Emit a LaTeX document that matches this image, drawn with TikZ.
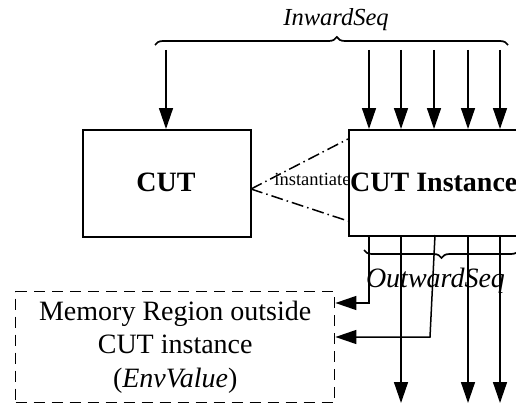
\documentclass[tikz,border=0pt]{standalone}
\usepackage{fontspec}
\setmainfont{Liberation Serif}
\usetikzlibrary{arrows.meta,decorations.pathreplacing}

\begin{document}
\begin{tikzpicture}[x=1pt,y=-1pt,
  conn/.style={line width=1.5pt},
  arr/.style={conn,-{Triangle[length=21pt,width=14pt]}},
  solidbox/.style={draw,line width=1.7pt,inner sep=0pt},
  dashbox/.style={draw,line width=1.4pt,dash pattern=on 11pt off 7pt,inner sep=0pt,
    align=center,font=\fontsize{28}{33.5}\selectfont},
  dashdot/.style={line width=1.5pt,dash pattern=on 12pt off 4pt on 1.5pt off 4pt},
  bracepath/.style={line width=1.7pt,decorate,decoration={brace,amplitude=8pt}},
  bigbold/.style={font=\fontsize{28}{33.5}\selectfont\bfseries,inner sep=0pt},
  small/.style={font=\fontsize{18.5}{22}\selectfont,inner sep=0pt}]

\clip (0,0) rectangle (516,404);

% boxes
\node[solidbox,anchor=north west,minimum width=168pt,minimum height=107pt] (cut) at (82,129) {};
\node[solidbox,anchor=north west,minimum width=200pt,minimum height=106pt] (inst) at (348,129) {};
\node[dashbox,anchor=north west,minimum width=319pt,minimum height=111pt] (mem) at (15,291)
  {Memory Region outside\\CUT instance\\(\textit{EnvValue})};

% box titles
\node[bigbold,anchor=base] (cuttext) at (166,191.5) {CUT};
\node[bigbold,anchor=base west] (insttext) at (350,191) {CUT Instance};

% instantiation relation
\coordinate (apex) at (251,189);
\coordinate (up) at (348,139);
\coordinate (lo) at (348,221);
\draw[dashdot] (apex) -- (up);
\draw[dashdot] (apex) -- (lo);
\node[small,anchor=base] (insttag) at (312.5,185) {instantiate};

% inward sequence
\draw[bracepath,decoration={aspect=0.515}] (155,45) -- (508,45);
\node[font=\fontsize{24.5}{28}\selectfont\itshape,inner sep=0pt,anchor=base] (inlabel) at (336,26) {InwardSeq};
\coordinate (i0) at (166,50);
\foreach \x [count=\k] in {369,401,434,468,500} {
  \coordinate (i\k) at (\x,50);
}
\draw[arr] (i0) -- (i0 |- cut.north);
\foreach \k in {1,...,5} {
  \draw[arr] (i\k) -- (i\k |- inst.north);
}

% outward sequence
\coordinate (o1) at (369,235);
\coordinate (o2) at (401,235);
\coordinate (o3) at (435,235);
\coordinate (o4) at (468,235);
\coordinate (o5) at (500,235);
\coordinate (m1) at (369,303);
\coordinate (m3) at (430,337);
\coordinate (e2) at (401,403);
\coordinate (e4) at (468,403);
\coordinate (e5) at (500,403);
\draw[arr] (o1) -- (m1) -- (m1 -| mem.east);
\draw[arr] (o3) -- (m3) -- (m3 -| mem.east);
\draw[arr] (o2) -- (e2);
\draw[arr] (o4) -- (e4);
\draw[arr] (o5) -- (e5);
\draw[bracepath,decoration={mirror,aspect=0.5}] (364,250) -- (519,250);
\node[font=\fontsize{28}{33.5}\selectfont\itshape,inner sep=0pt,anchor=base] (outlabel) at (435.5,287) {OutwardSeq};

\end{tikzpicture}
\end{document}
